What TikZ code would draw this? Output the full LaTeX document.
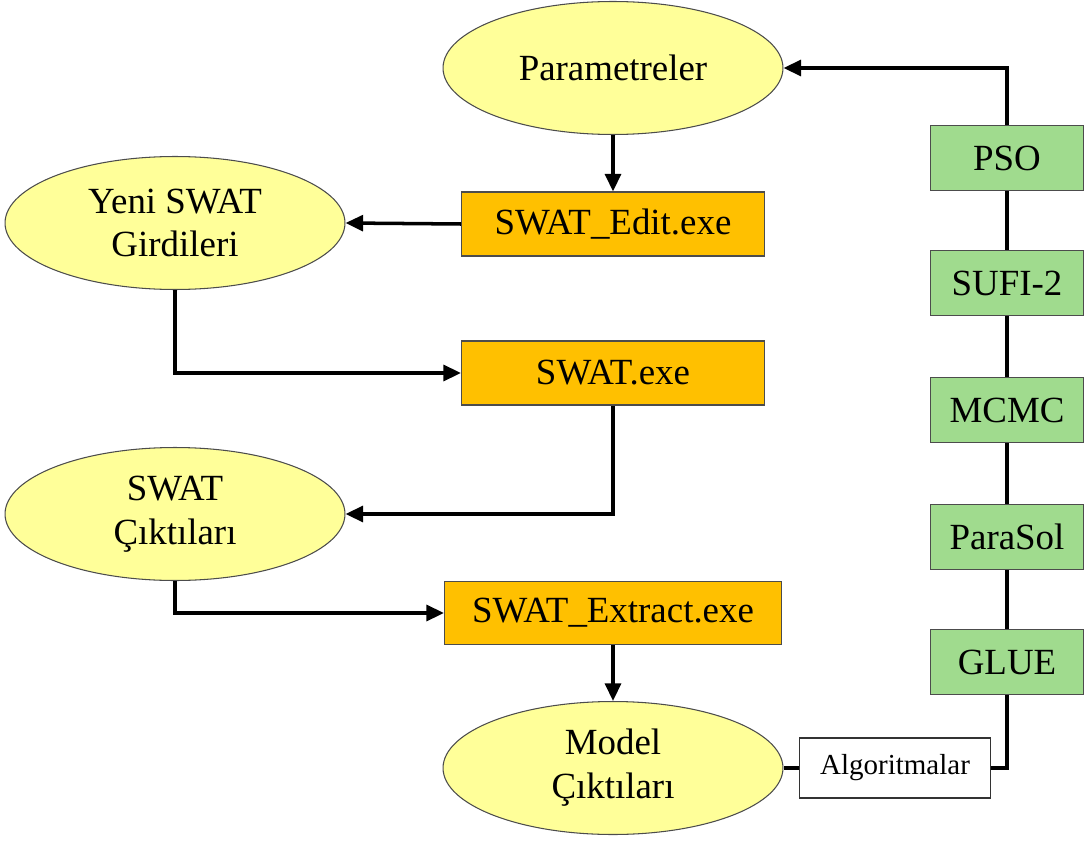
\documentclass[tikz,border=0pt]{standalone}
\usepackage{fontspec}
\setmainfont{Liberation Serif}
\usetikzlibrary{shapes.geometric,arrows.meta}
\definecolor{swyellow}{HTML}{FFFF99}
\definecolor{sworange}{HTML}{FFC000}
\definecolor{swgreen}{HTML}{A0DB8E}

\begin{document}
\begin{tikzpicture}[x=0.02cm,y=-0.02cm,
  oval/.style={ellipse,draw=black!70,line width=0.6pt,fill=swyellow,inner sep=0pt,
    minimum width=6.8cm,minimum height=2.66cm,align=center,font=\fontsize{21}{25}\selectfont},
  exebox/.style={rectangle,draw=black!70,line width=0.6pt,fill=sworange,inner sep=0pt,
    minimum width=6.06cm,minimum height=1.28cm,font=\fontsize{21}{25}\selectfont},
  algbox/.style={rectangle,draw=black!70,line width=0.6pt,fill=swgreen,inner sep=0pt,
    minimum width=3.08cm,minimum height=1.3cm,font=\fontsize{21}{25}\selectfont},
  flow/.style={line width=2pt,-{Triangle[length=10pt,width=9pt]}},
  link/.style={line width=2pt}]
  \useasboundingbox (0,0) rectangle (1084,841);
  % left column
  \node[oval] (par) at (613,68) {Parametreler};
  \node[exebox] (edit) at (613,224) {SWAT\_Edit.exe};
  \node[oval] (yeni) at (175,223) {Yeni SWAT\\Girdileri};
  \node[exebox] (exe) at (613,373) {SWAT.exe};
  \node[oval] (cik) at (175,514) {SWAT\\Çıktıları};
  \node[exebox,minimum width=6.74cm,minimum height=1.26cm] (extract) at (613,613) {SWAT\_Extract.exe};
  \node[oval] (model) at (613,768) {Model\\Çıktıları};
  \node[rectangle,draw=black!80,line width=0.6pt,fill=white,minimum width=3.82cm,
    minimum height=1.2cm,font=\fontsize{16.5}{20}\selectfont] (alg) at (895,768) {Algoritmalar};
  % algorithms
  \node[algbox] (pso) at (1007,158) {PSO};
  \node[algbox] (sufi) at (1007,283) {SUFI-2};
  \node[algbox] (mcmc) at (1007,410) {MCMC};
  \node[algbox] (parasol) at (1007,537) {ParaSol};
  \node[algbox] (glue) at (1007,662) {GLUE};
  % connectors
  \draw[flow] (par.south) -- (edit.north);
  \draw[flow] (edit.west) -- (yeni.east);
  \draw[flow] (yeni.south) |- (exe.west);
  \draw[flow] (exe.south) |- (cik.east);
  \draw[flow] (cik.south) |- (extract.west);
  \draw[flow] (extract.south) -- (model.north);
  \draw[link] (model.east) -- (alg.west);
  \draw[link] (alg.east) -| (glue.south);
  \foreach \a/\b in {glue/parasol,parasol/mcmc,mcmc/sufi,sufi/pso}
    \draw[link] (\a.north) -- (\b.south);
  \draw[flow] (pso.north) |- (par.east);
\end{tikzpicture}
\end{document}
